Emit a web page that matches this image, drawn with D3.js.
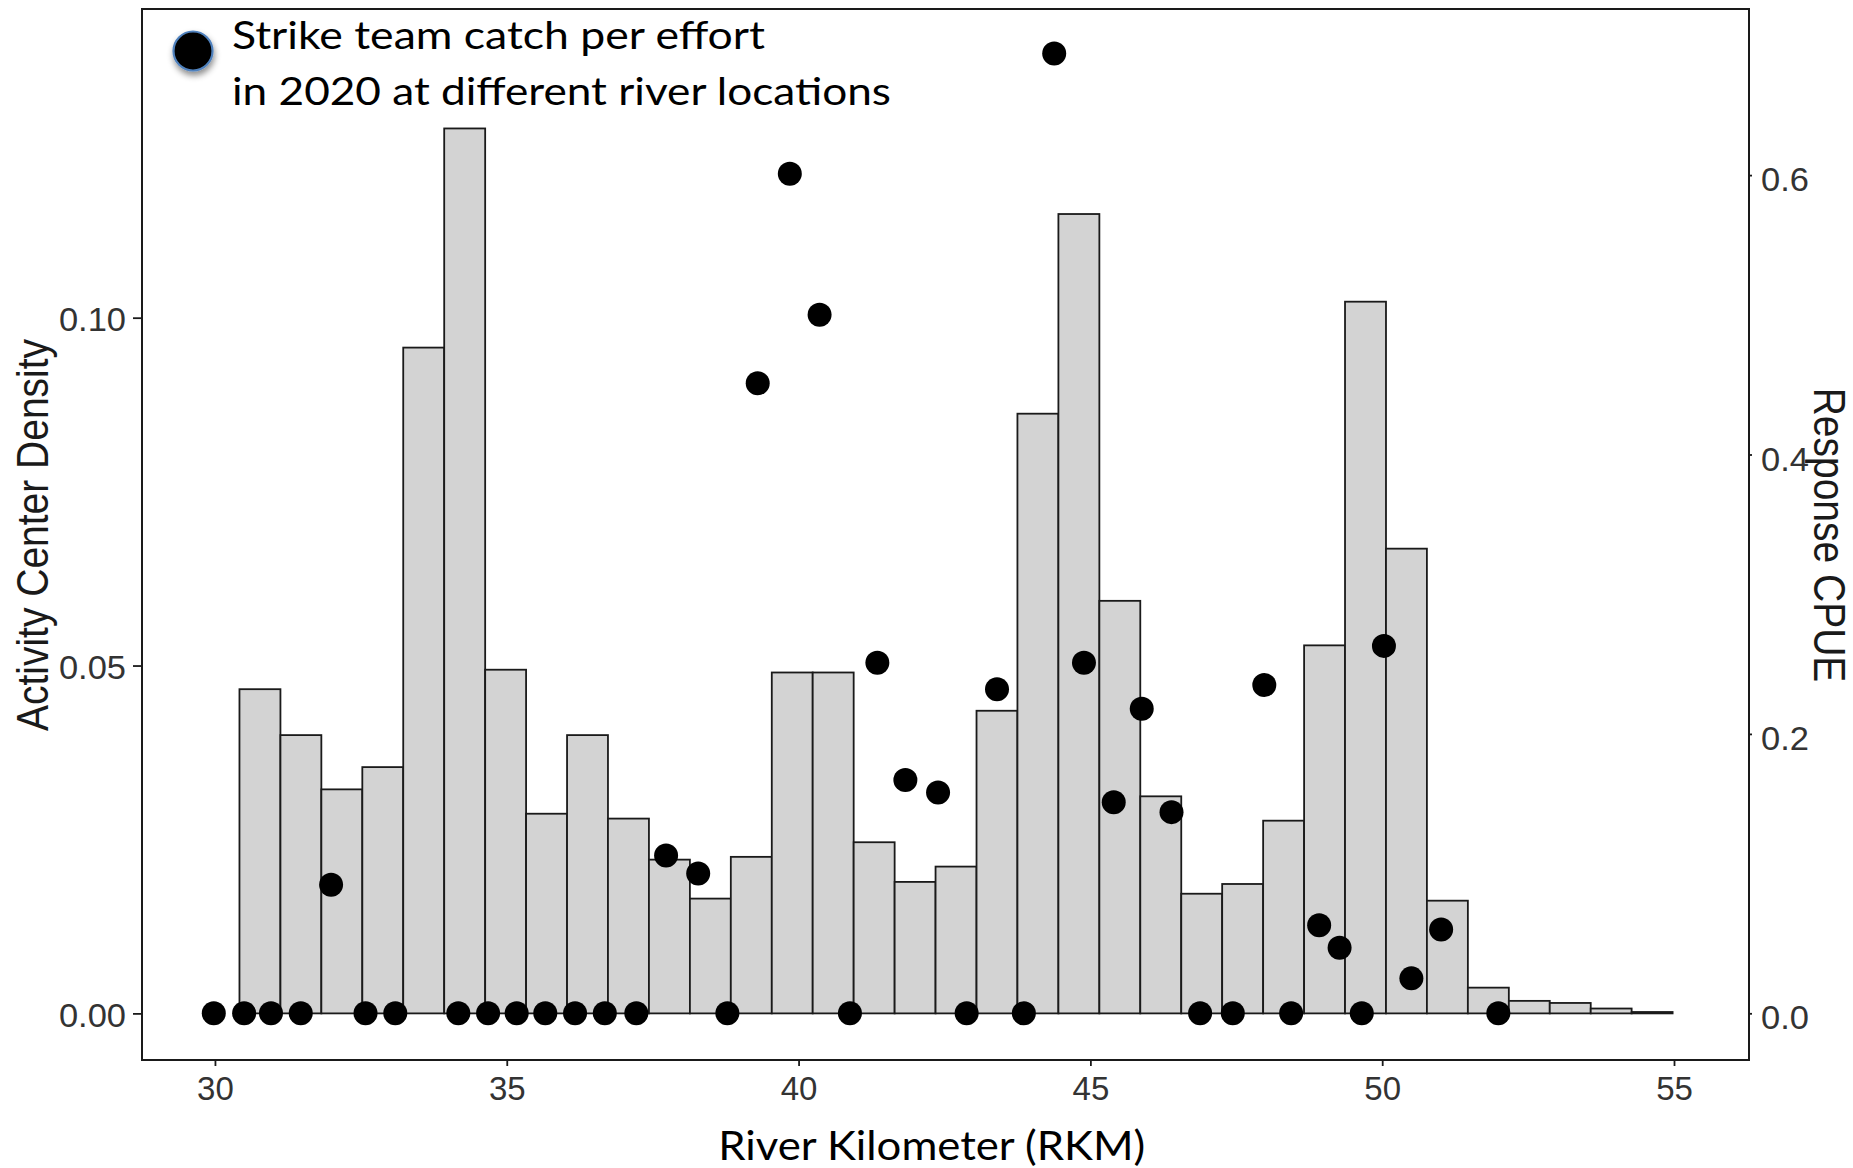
<!DOCTYPE html>
<html>
<head>
<meta charset="utf-8">
<script src="https://cdn.jsdelivr.net/npm/d3@7"></script>
<style>
  html, body { margin: 0; padding: 0; background: #ffffff; }
  svg { display: block; }
</style>
</head>
<body>
<svg id="chart" width="1853" height="1168"></svg>
<script>
// Histogram of activity-centre locations along the river (bin edges in RKM)
const binEdges = [30.420, 31.122, 31.823, 32.525, 33.226, 33.928, 34.630, 35.331, 36.033,
  36.734, 37.436, 38.138, 38.839, 39.541, 40.242, 40.944, 41.646, 42.347, 43.049,
  43.750, 44.452, 45.154, 45.855, 46.557, 47.258, 47.960, 48.662, 49.363, 50.065,
  50.766, 51.468, 52.170, 52.871, 53.573, 54.274, 54.976];

// Density of activity centres in each bin
const binDensity = [0.0466, 0.0400, 0.0322, 0.0354, 0.0957, 0.1272, 0.0494, 0.0287,
  0.0400, 0.0280, 0.0221, 0.0165, 0.0225, 0.0490, 0.0490, 0.0246, 0.0189, 0.0211,
  0.0435, 0.0862, 0.1149, 0.0593, 0.0312, 0.0172, 0.0186, 0.0277, 0.0529, 0.1023,
  0.0668, 0.0162, 0.0037, 0.0018, 0.0015, 0.0007, 0.0002];

// Strike team sampling sites (RKM) and catch per unit effort in 2020
const siteRkm = [29.98, 30.50, 30.96, 31.47, 31.99, 32.58, 33.09, 34.17, 34.68, 35.17,
  35.66, 36.17, 36.68, 37.22, 37.73, 38.28, 38.78, 39.30, 39.85, 40.36, 40.88, 41.35,
  41.83, 42.39, 42.88, 43.40, 43.86, 44.38, 44.89, 45.40, 45.88, 46.39, 46.88, 47.44,
  47.98, 48.44, 48.92, 49.27, 49.65, 50.03, 50.50, 51.01, 51.99];
const siteCpue = [0, 0, 0, 0, 0.092, 0, 0, 0, 0, 0,
  0, 0, 0, 0, 0.113, 0.100, 0, 0.451, 0.601, 0.500, 0, 0.251,
  0.167, 0.158, 0, 0.232, 0, 0.687, 0.251, 0.151, 0.218, 0.144, 0, 0,
  0.235, 0, 0.063, 0.047, 0, 0.263, 0.025, 0.060, 0];

// Axis ticks
const xTicks = [30, 35, 40, 45, 50, 55];
const densityTicks = [0.00, 0.05, 0.10];
const cpueTicks = [0.0, 0.2, 0.4, 0.6];

const xTitle = "River Kilometer (RKM)";
const yLeftTitle = "Activity Center Density";
const yRightTitle = "Response CPUE";
const legendLines = ["Strike team catch per effort", "in 2020 at different river locations"];

// ---- layout ----
const panel = { left: 142, right: 1749, top: 9, bottom: 1060 };
const svg = d3.select("#chart");

const x = d3.scaleLinear().domain([28.75, 56.285]).range([panel.left, panel.right]);
const yL = d3.scaleLinear().domain([-0.0067, 0.14437]).range([panel.bottom, panel.top]);
const yR = d3.scaleLinear().domain([-0.03343, 0.7189]).range([panel.bottom, panel.top]);

const tickFont = "'Liberation Sans', Arial, sans-serif";
const labelColor = "#333333";
const yLabelStretch = 1.045;

// drop shadow for the legend key
const defs = svg.append("defs");
const shadow = defs.append("filter").attr("id", "keyShadow")
  .attr("x", "-50%").attr("y", "-50%").attr("width", "200%").attr("height", "200%");
shadow.append("feDropShadow").attr("dx", 1).attr("dy", 4).attr("stdDeviation", 3)
  .attr("flood-color", "#000").attr("flood-opacity", 0.45);

// ---- histogram bars ----
const bars = binDensity.map((v, i) => ({ x0: binEdges[i], x1: binEdges[i + 1], v }));
svg.append("g").selectAll("rect").data(bars).join("rect")
  .attr("x", d => x(d.x0))
  .attr("width", d => x(d.x1) - x(d.x0))
  .attr("y", d => yL(d.v))
  .attr("height", d => yL(0) - yL(d.v))
  .attr("fill", "#d3d3d3")
  .attr("stroke", "#1a1a1a")
  .attr("stroke-width", 1.8);

// ---- CPUE points ----
const sites = siteRkm.map((k, i) => ({ k, c: siteCpue[i] }));
svg.append("g").selectAll("circle").data(sites).join("circle")
  .attr("cx", d => x(d.k))
  .attr("cy", d => yR(d.c))
  .attr("r", 12)
  .attr("fill", "#000");

// ---- panel border ----
svg.append("rect")
  .attr("x", panel.left).attr("y", panel.top)
  .attr("width", panel.right - panel.left).attr("height", panel.bottom - panel.top)
  .attr("fill", "none").attr("stroke", "#1a1a1a").attr("stroke-width", 2);

// ---- axes ----
function styleAxis(g) {
  g.select(".domain").remove();
  g.selectAll(".tick line").attr("stroke", "#1a1a1a").attr("stroke-width", 1.8);
  g.selectAll(".tick text")
    .attr("fill", labelColor)
    .style("font-family", tickFont)
    .style("font-size", "33px");
}

const gBottom = svg.append("g")
  .attr("transform", `translate(0,${panel.bottom})`)
  .call(d3.axisBottom(x).tickValues(xTicks).tickFormat(d3.format("d")).tickSize(6).tickPadding(11))
  .call(styleAxis);

const gLeft = svg.append("g")
  .attr("transform", `translate(${panel.left},0)`)
  .call(d3.axisLeft(yL).tickValues(densityTicks).tickFormat(d3.format(".2f")).tickSize(9).tickPadding(6.3))
  .call(styleAxis);
gLeft.selectAll(".tick text")
  .attr("dy", "0.39em")
  .attr("transform", `scale(${yLabelStretch},1)`);

const gRight = svg.append("g")
  .attr("transform", `translate(${panel.right},0)`)
  .call(d3.axisRight(yR).tickValues(cpueTicks).tickFormat(d3.format(".1f")).tickSize(3).tickPadding(8.5))
  .call(styleAxis);
gRight.selectAll(".tick text")
  .attr("dy", "0.47em")
  .attr("transform", `scale(${yLabelStretch},1)`);

// ---- axis titles ----
svg.append("text")
  .attr("transform", "translate(48.3,535) scale(1.12,1) rotate(-90)")
  .attr("text-anchor", "middle")
  .style("font-family", tickFont)
  .style("font-size", "39px")
  .attr("fill", "#1a1a1a")
  .text(yLeftTitle);

svg.append("text")
  .attr("transform", "translate(1813.5,535) scale(1.12,1) rotate(90)")
  .attr("text-anchor", "middle")
  .style("font-family", tickFont)
  .style("font-size", "39px")
  .attr("fill", "#1a1a1a")
  .text(yRightTitle);

svg.append("text")
  .attr("x", 931.7).attr("y", 1160)
  .attr("text-anchor", "middle")
  .attr("textLength", 427).attr("lengthAdjust", "spacingAndGlyphs")
  .style("font-family", "Lato, 'Open Sans', sans-serif")
  .style("font-size", "41.5px")
  .attr("fill", "#000")
  .text(xTitle);

// ---- legend ----
svg.append("circle")
  .attr("cx", 193).attr("cy", 51).attr("r", 19.5)
  .attr("fill", "#000")
  .attr("stroke", "#4f81bd").attr("stroke-width", 2.2)
  .attr("filter", "url(#keyShadow)");

const legendLengths = [533, 659];
const legendBaselines = [49, 105];
svg.append("g").selectAll("text").data(legendLines).join("text")
  .attr("x", 232)
  .attr("y", (d, i) => legendBaselines[i])
  .attr("textLength", (d, i) => legendLengths[i])
  .attr("lengthAdjust", "spacingAndGlyphs")
  .style("font-family", "Lato, 'Open Sans', sans-serif")
  .style("font-size", "38.7px")
  .attr("fill", "#000")
  .text(d => d);
</script>
</body>
</html>
